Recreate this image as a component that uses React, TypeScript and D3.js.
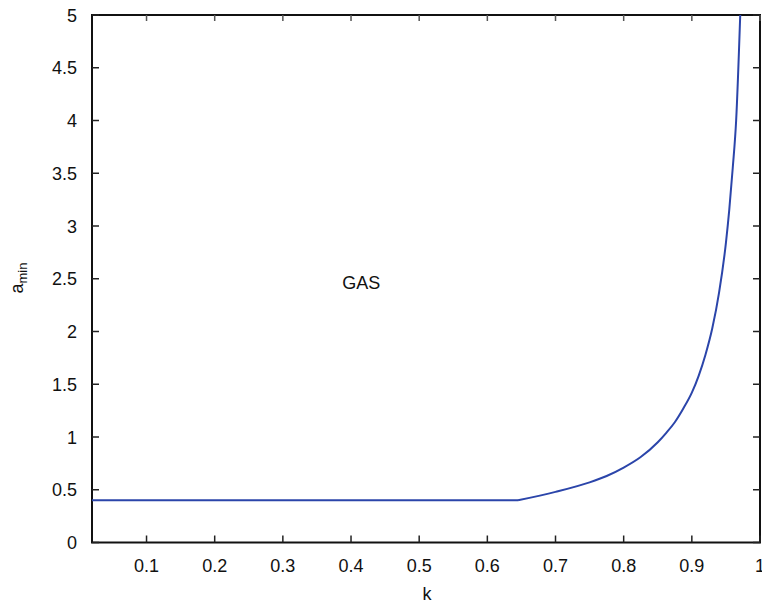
import React, { useRef, useEffect } from 'react';
import * as d3 from 'd3';

// k values and the a_min boundary
const kValues = [0.02, 0.645, 0.7, 0.75, 0.775, 0.8, 0.825, 0.85, 0.8625, 0.875, 0.8875, 0.9, 0.91, 0.92, 0.93, 0.94, 0.95, 0.955, 0.96, 0.965, 0.971];
const aMinValues = [0.4, 0.4, 0.48, 0.57, 0.63, 0.71, 0.81, 0.95, 1.04, 1.14, 1.27, 1.42, 1.58, 1.78, 2.03, 2.37, 2.84, 3.16, 3.55, 4.0, 5.0];

const xTicks = [0.1, 0.2, 0.3, 0.4, 0.5, 0.6, 0.7, 0.8, 0.9, 1];
const yTicks = [0, 0.5, 1, 1.5, 2, 2.5, 3, 3.5, 4, 4.5, 5];
const regionLabel = { text: 'GAS', k: 0.415, a: 2.46 };

function App() {
    const svgRef = useRef<SVGSVGElement>(null);

    useEffect(() => {
        const layout = { width: 762, height: 603, left: 92, right: 760, top: 15, bottom: 542.5 };
        const font = '"Liberation Sans", Arial, sans-serif';

        const svg = d3.select(svgRef.current);
        svg.selectAll('*').remove();

        const xScale = d3.scaleLinear().domain([0.02, 1]).range([layout.left, layout.right]);
        const yScale = d3.scaleLinear().domain([0, 5]).range([layout.bottom, layout.top]);

        const points = kValues.map((k, i) => ({ k, a: aMinValues[i] }));

        // frame
        svg.append('rect')
            .attr('x', layout.left)
            .attr('y', layout.top)
            .attr('width', layout.right - layout.left)
            .attr('height', layout.bottom - layout.top)
            .attr('fill', 'none')
            .attr('stroke', '#111')
            .attr('stroke-width', 2);

        // bottom + top ticks
        const ticksG = svg.append('g').attr('stroke', '#222').attr('stroke-width', 1.5);
        xTicks.forEach(t => {
            const x = xScale(t);
            ticksG.append('line').attr('x1', x).attr('x2', x).attr('y1', layout.bottom).attr('y2', layout.bottom - 7);
            ticksG.append('line').attr('x1', x).attr('x2', x).attr('y1', layout.top).attr('y2', layout.top + 6).attr('stroke', '#555');
        });
        yTicks.forEach(t => {
            const y = yScale(t);
            ticksG.append('line').attr('x1', layout.left).attr('x2', layout.left + 7).attr('y1', y).attr('y2', y);
            ticksG.append('line').attr('x1', layout.right).attr('x2', layout.right - 7).attr('y1', y).attr('y2', y);
        });

        svg.append('g').selectAll('text')
            .data(xTicks)
            .join('text')
                .attr('x', d => xScale(d))
                .attr('y', 572)
                .attr('text-anchor', 'middle')
                .attr('font-family', font)
                .attr('font-size', 18)
                .attr('fill', '#111')
                .text(d => String(d));

        svg.append('g').selectAll('text')
            .data(yTicks)
            .join('text')
                .attr('x', 77)
                .attr('y', d => yScale(d) + 6.5)
                .attr('text-anchor', 'end')
                .attr('font-family', font)
                .attr('font-size', 18)
                .attr('fill', '#111')
                .text(d => String(d));

        // curve: flat part straight, rising part smooth
        const flatLine = d3.line<{ k: number; a: number }>()
            .x(d => xScale(d.k))
            .y(d => yScale(d.a));
        const riseLine = d3.line<{ k: number; a: number }>()
            .x(d => xScale(d.k))
            .y(d => yScale(d.a))
            .curve(d3.curveMonotoneX);

        const curveG = svg.append('g')
            .attr('fill', 'none')
            .attr('stroke', '#2b45aa')
            .attr('stroke-width', 2)
            .attr('stroke-linejoin', 'round');
        curveG.append('path').datum(points.slice(0, 2)).attr('d', flatLine);
        curveG.append('path').datum(points.slice(1)).attr('d', riseLine);

        svg.append('text')
            .attr('x', xScale(regionLabel.k))
            .attr('y', yScale(regionLabel.a) + 6.5)
            .attr('text-anchor', 'middle')
            .attr('font-family', font)
            .attr('font-size', 18)
            .attr('fill', '#111')
            .text(regionLabel.text);

        // axis titles
        svg.append('text')
            .attr('x', 427)
            .attr('y', 600)
            .attr('text-anchor', 'middle')
            .attr('font-family', font)
            .attr('font-size', 18)
            .attr('fill', '#111')
            .text('k');

        const yLabel = svg.append('text')
            .attr('transform', 'translate(23,278) rotate(-90)')
            .attr('text-anchor', 'middle')
            .attr('font-family', font)
            .attr('font-size', 18)
            .attr('fill', '#111');
        yLabel.append('tspan').text('a');
        yLabel.append('tspan').attr('font-size', 13).attr('dy', 4).text('min');
    }, []);

    return (
        <svg
            ref={svgRef}
            width={762}
            height={603}
            style={{ position: 'absolute', left: 0, top: 0, background: '#fff' }}
        />
    );
}

export default App;
